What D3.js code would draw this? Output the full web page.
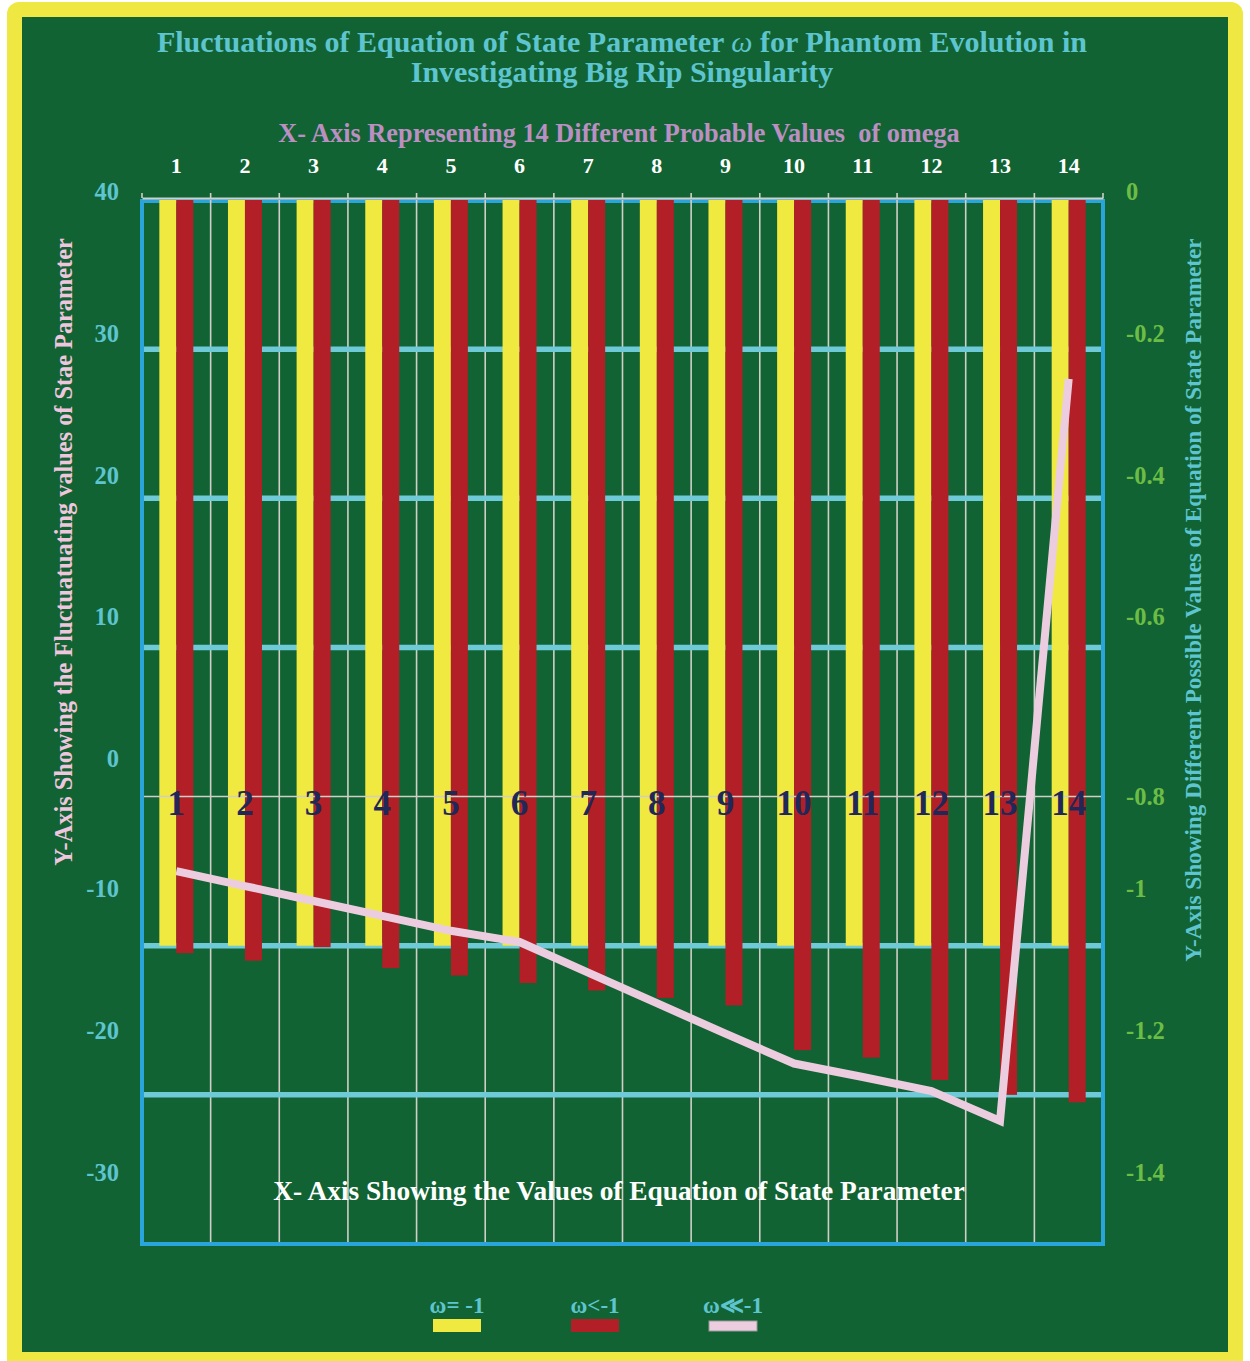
<!DOCTYPE html>
<html>
<head>
<meta charset="utf-8">
<script src="https://cdn.jsdelivr.net/npm/d3@7/dist/d3.min.js"></script>
<style>
  html, body { margin: 0; padding: 0; background: #ffffff; }
  svg { display: block; }
  text { font-family: "Liberation Serif", "Times New Roman", serif; font-weight: bold; }
</style>
</head>
<body>
<svg id="chart" width="1250" height="1361"></svg>
<script>
// ---- data ----
const categories = ["1","2","3","4","5","6","7","8","9","10","11","12","13","14"];
const seriesNames = ["ω= -1", "ω<-1", "ω≪-1"];
const omegaEqual = [-1,-1,-1,-1,-1,-1,-1,-1,-1,-1,-1,-1,-1,-1];
const omegaLess = [-1.01,-1.02,-1.002,-1.03,-1.04,-1.05,-1.06,-1.07,-1.08,-1.14,-1.15,-1.18,-1.2,-1.21];
const omegaMuchLess = [-0.9,-0.92,-0.94,-0.96,-0.98,-0.995,-1.036,-1.077,-1.118,-1.158,-1.176,-1.195,-1.235,-0.24];
const leftTicks = [40,30,20,10,0,-10,-20,-30];
const rightTicks = [0,-0.2,-0.4,-0.6,-0.8,-1,-1.2,-1.4];
const gridTicks = [30,20,10,-10,-20];

// ---- colours ----
const C = {
  frame: "#efe842", panel: "#126333", border: "#29a5dc", grid: "#6ecad6",
  vgrid: "#cfcfc8", yellow: "#efe940", red: "#b31f26", pink: "#eccde0",
  teal: "#5ec5d0", lilac: "#bb8fc2", pinkTitle: "#efc6de", green: "#6cbd45", navy: "#1f2859"
};
const FONT = "Liberation Serif, Times New Roman, serif";

const svg = d3.select("#chart");

// frame and panel
svg.append("rect").attr("x",7).attr("y",2).attr("width",1236).attr("height",1380).attr("rx",12).attr("fill",C.frame);
svg.append("rect").attr("x",22).attr("y",17).attr("width",1206).attr("height",1335).attr("fill",C.panel);

// ---- scales ----
const plot = {left:142, right:1103, top:200, bottom:1244};
const x = d3.scaleBand().domain(categories).range([plot.left, plot.right]).padding(0);
const xs = d3.scaleBand().domain(["eq","lt"]).range([0, x.bandwidth()]).paddingInner(0).paddingOuter(1.02);
const y = d3.scaleLinear().domain([0,-1.4]).range([plot.top, plot.bottom]);
const yLeft = d3.scaleLinear().domain([40,-30]).range([plot.top, plot.bottom]);
// tick label placement for the two value axes
const yLeftLabel = d3.scaleLinear().domain([40,10,0,-10,-30]).range([192,617,759,889,1173]);
const yRightLabel = d3.scaleLinear().domain([0,-0.6,-0.8,-1,-1.4]).range([192,617,797,889,1173]);

// plot frame (top edge sits under the bars)
svg.append("rect")
  .attr("x",plot.left).attr("y",plot.top+1)
  .attr("width",plot.right-plot.left).attr("height",plot.bottom-plot.top-1)
  .attr("fill","none").attr("stroke",C.border).attr("stroke-width",4);

// vertical gridlines at category boundaries
const bounds = categories.map(c => x(c)).concat([plot.right]);
svg.append("g").selectAll("line").data(bounds.slice(1,-1)).join("line")
  .attr("x1",d=>d).attr("x2",d=>d).attr("y1",plot.top).attr("y2",plot.bottom-2)
  .attr("stroke",C.vgrid).attr("stroke-width",1.6);

// horizontal gridlines
svg.append("g").selectAll("line").data(gridTicks).join("line")
  .attr("x1",plot.left+2).attr("x2",plot.right-2)
  .attr("y1",d=>yLeft(d)).attr("y2",d=>yLeft(d))
  .attr("stroke",C.grid).attr("stroke-width",5.5);

// bars
const bars = svg.append("g");
bars.selectAll("rect.eq").data(categories).join("rect").attr("class","eq")
  .attr("x",d=>x(d)+xs("eq")).attr("width",xs.bandwidth())
  .attr("y",y(0)).attr("height",(d,i)=>y(omegaEqual[i])-y(0))
  .attr("fill",C.yellow);
bars.selectAll("rect.lt").data(categories).join("rect").attr("class","lt")
  .attr("x",d=>x(d)+xs("lt")).attr("width",xs.bandwidth())
  .attr("y",y(0)).attr("height",(d,i)=>y(omegaLess[i])-y(0))
  .attr("fill",C.red);

// zero line of the left axis
svg.append("line")
  .attr("x1",plot.left+2).attr("x2",plot.right-2)
  .attr("y1",yLeft(0)).attr("y2",yLeft(0))
  .attr("stroke",C.vgrid).attr("stroke-width",1.6);

// category labels along the zero line
svg.append("g").selectAll("text").data(categories).join("text")
  .attr("x",d=>x(d)+x.bandwidth()/2).attr("y",yLeft(0)).attr("dy",18)
  .attr("text-anchor","middle").attr("font-size",35).attr("fill",C.navy)
  .text(d=>d);

// phantom line
const line = d3.line().x((d,i)=>x(categories[i])+x.bandwidth()/2).y(d=>y(d));
svg.append("path").datum(omegaMuchLess)
  .attr("d",line).attr("fill","none").attr("stroke",C.pink)
  .attr("stroke-width",8).attr("stroke-linejoin","miter").attr("stroke-miterlimit",3);

// top category axis
const topAxis = svg.append("g").attr("transform",`translate(0,${plot.top-2})`)
  .call(d3.axisTop(x).tickSize(0).tickPadding(25));
topAxis.select(".domain").attr("stroke",C.vgrid).attr("stroke-width",2);
topAxis.selectAll("text").attr("font-size",22).attr("fill","#ffffff")
  .attr("font-family",FONT).attr("font-weight","bold");
svg.append("g").selectAll("line").data(bounds).join("line")
  .attr("x1",d=>d).attr("x2",d=>d).attr("y1",plot.top-7).attr("y2",plot.top-2)
  .attr("stroke",C.vgrid).attr("stroke-width",1.6);

// left value axis
const la = svg.append("g").attr("transform","translate(119,0)")
  .call(d3.axisLeft(yLeftLabel).tickValues(leftTicks).tickSize(0).tickPadding(0).tickFormat(d=>String(d)));
la.select(".domain").remove();
la.selectAll("text").attr("font-size",24.5).attr("fill",C.teal)
  .attr("font-family",FONT).attr("font-weight","bold");

// right value axis
const ra = svg.append("g").attr("transform","translate(1126,0)")
  .call(d3.axisRight(yRightLabel).tickValues(rightTicks).tickSize(0).tickPadding(0).tickFormat(d=>String(d)));
ra.select(".domain").remove();
ra.selectAll("text").attr("font-size",24.5).attr("fill",C.green)
  .attr("font-family",FONT).attr("font-weight","bold");

// titles
const title = svg.append("text").attr("x",622).attr("text-anchor","middle")
  .attr("font-size",30).attr("fill",C.teal);
title.append("tspan").attr("x",622).attr("y",52).text("Fluctuations of Equation of State Parameter ")
  .append("tspan").attr("font-style","italic").attr("font-weight","normal").text("ω");
title.append("tspan").text(" for Phantom Evolution in");
title.append("tspan").attr("x",622).attr("y",82).text("Investigating Big Rip Singularity");

svg.append("text").attr("x",619).attr("y",142).attr("text-anchor","middle")
  .attr("font-size",26.3).attr("fill",C.lilac)
  .text("X- Axis Representing 14 Different Probable Values\u00a0\u00a0of omega");

svg.append("text").attr("x",619).attr("y",1200).attr("text-anchor","middle")
  .attr("font-size",27.4).attr("fill","#ffffff")
  .text("X- Axis Showing the Values of Equation of State Parameter");

svg.append("text").attr("transform","translate(72,552) rotate(-90)").attr("text-anchor","middle")
  .attr("font-size",24.3).attr("fill",C.pinkTitle)
  .text("Y-Axis Showing the Fluctuatuating values of Stae Parameter");

svg.append("text").attr("transform","translate(1201,600) rotate(-90)").attr("text-anchor","middle")
  .attr("font-size",23.2).attr("fill",C.teal)
  .text("Y-Axis Showing Different Possible Values of Equation of State Parameter");

// legend
const legendX = d3.scalePoint().domain(seriesNames).range([457,733]);
const legendFill = [C.yellow, C.red, C.pink];
const lg = svg.append("g").selectAll("g").data(seriesNames).join("g")
  .attr("transform",d=>`translate(${legendX(d)},0)`);
lg.append("text").attr("y",1313).attr("text-anchor","middle").attr("font-size",23)
  .attr("fill",C.teal).text(d=>d);
lg.append("rect").attr("x",-24).attr("y",(d,i)=>i===2?1321:1319).attr("width",48)
  .attr("height",(d,i)=>i===2?10:13)
  .attr("fill",(d,i)=>legendFill[i])
  .attr("stroke",(d,i)=>i===2?"#9a9a9a":"none").attr("stroke-width",1);
</script>
</body>
</html>
